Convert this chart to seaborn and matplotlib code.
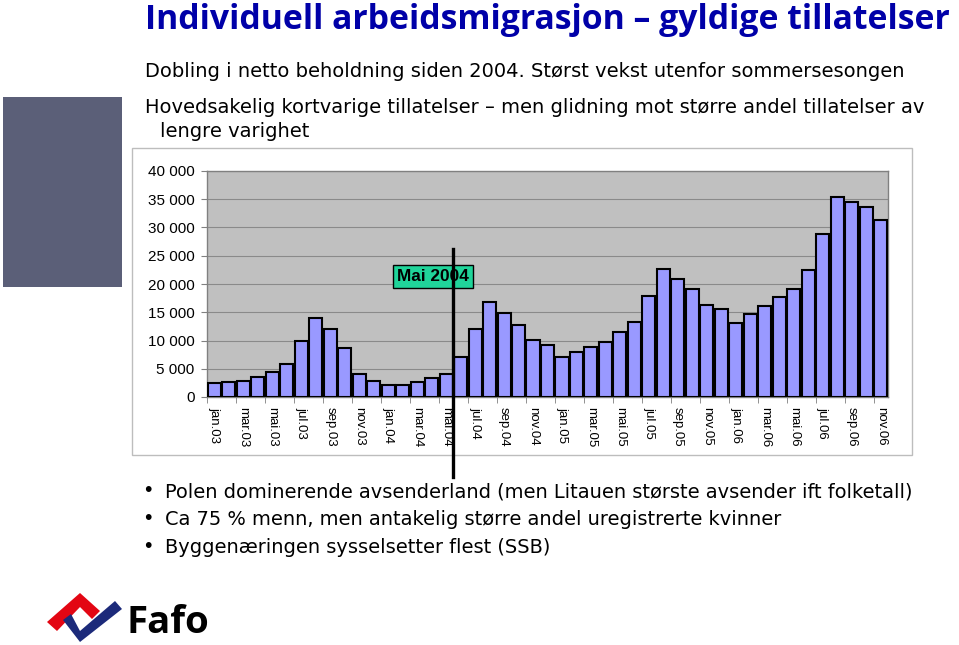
import matplotlib
matplotlib.use("Agg")
import matplotlib.pyplot as plt
import seaborn as sns
import numpy as np
from matplotlib import font_manager as fm
from matplotlib.font_manager import FontProperties
from matplotlib.patches import Rectangle, Polygon

# ---------------- data ----------------
months = ["jan.03", "feb.03", "mar.03", "apr.03", "mai.03", "jun.03", "jul.03", "aug.03",
          "sep.03", "okt.03", "nov.03", "des.03",
          "jan.04", "feb.04", "mar.04", "apr.04", "mai.04", "jun.04", "jul.04", "aug.04",
          "sep.04", "okt.04", "nov.04", "des.04",
          "jan.05", "feb.05", "mar.05", "apr.05", "mai.05", "jun.05", "jul.05", "aug.05",
          "sep.05", "okt.05", "nov.05", "des.05",
          "jan.06", "feb.06", "mar.06", "apr.06", "mai.06", "jun.06", "jul.06", "aug.06",
          "sep.06", "okt.06", "nov.06"]
permits = [2400, 2650, 2900, 3600, 4500, 5800, 9900, 13950,
           12100, 8750, 4000, 2900,
           2200, 2200, 2600, 3400, 4000, 7000, 11950, 16750,
           14900, 12750, 10150, 9150,
           7150, 8050, 8900, 9750, 11500, 13300, 17900, 22700,
           20850, 19100, 16300, 15500,
           13100, 14700, 16150, 17750, 19100, 22450, 28800, 35350,
           34550, 33550, 31400]
tick_labels = months[::2]
yticks = [0, 5000, 10000, 15000, 20000, 25000, 30000, 35000, 40000]

title = "Individuell arbeidsmigrasjon \u2013 gyldige tillatelser"
intro_lines = ["Dobling i netto beholdning siden 2004. Størst vekst utenfor sommersesongen",
               "Hovedsakelig kortvarige tillatelser \u2013 men glidning mot større andel tillatelser av",
               "lengre varighet"]
bullets = ["Polen dominerende avsenderland (men Litauen største avsender ift folketall)",
           "Ca 75 % menn, men antakelig større andel uregistrerte kvinner",
           "Byggenæringen sysselsetter flest (SSB)"]
marker_label = "Mai 2004"

# ---------------- figure ----------------
W, H = 959, 645
fig = plt.figure(figsize=(W / 100, H / 100), dpi=100)
fig.patch.set_facecolor("white")


def fx(x):
    return x / W


def fy(y):
    return 1 - y / H


names = {f.name for f in fm.fontManager.ttflist}
candidates = [n for n in ["Roboto Condensed", "Liberation Sans Narrow", "Roboto", "Open Sans",
                          "Lato", "Noto Sans", "Liberation Sans", "DejaVu Sans"] if n in names]
arial = "Liberation Sans"
renderer = fig.canvas.get_renderer()


def choose(text, width, cap, weight="normal"):
    """Pick the installed family whose size fitted to `width` gives cap height closest to `cap`."""
    best = None
    for fam in candidates:
        fp = FontProperties(family=fam, weight=weight, size=10)
        w, _, _ = renderer.get_text_width_height_descent(text, fp, ismath=False)
        _, hc, _ = renderer.get_text_width_height_descent("H", fp, ismath=False)
        s = 10 * width / w
        c = hc * s / 10
        score = abs(c - cap)
        if best is None or score < best[0]:
            best = (score, fam, s)
    return best[1], best[2]


# decorative block on left
fig.patches.append(Rectangle((fx(3), fy(287)), (122 - 3) / W, (287 - 97) / H,
                             transform=fig.transFigure, facecolor="#5B5F78",
                             edgecolor="none", zorder=-2))
# chart frame
fig.patches.append(Rectangle((fx(132), fy(455)), (912 - 132) / W, (455 - 148) / H,
                             transform=fig.transFigure, facecolor="none",
                             edgecolor="#BDBDBD", lw=1, zorder=-1))

# title
fam_t, fs_t = choose(title, 955 - 145, 23, "bold")
fig.text(fx(145), fy(29), title, color="#0000A8", fontweight="bold",
         family=fam_t, fontsize=fs_t, va="baseline")

# intro lines
fam_b, fs_b = choose(intro_lines[1], 922 - 145, 14)
for txt, x, yb in zip(intro_lines, [145, 145, 160], [77, 113, 137]):
    fig.text(fx(x), fy(yb), txt, family=fam_b, fontsize=fs_b, va="baseline", color="black")

# bullets
fam_u, fs_u = choose(bullets[0], 912 - 165, 13.5)
for b, yb in zip(bullets, [497, 525, 553]):
    fig.text(fx(165), fy(yb), b, family=fam_u, fontsize=fs_u, va="baseline")
    fig.text(fx(144), fy(yb - 1), "\u2022", family=arial, fontsize=fs_u * 1.1,
             va="baseline")

# ---------------- chart ----------------
ax = fig.add_axes([fx(207), fy(397), (888 - 207) / W, (397 - 171) / H])
sns.barplot(x=months, y=permits, color="#9999FF", saturation=1, edgecolor="black",
            linewidth=1.5, width=0.9, ax=ax, zorder=3)
ax.set_xlim(-0.5, len(months) - 0.5)
ax.set_ylim(0, 40000)
ax.set_facecolor("#C0C0C0")
ax.set_yticks(yticks)
ax.set_yticklabels([f"{v:,}".replace(",", " ") for v in yticks], family=arial, fontsize=11)
ax.set_xticks(range(0, len(months), 2))
ax.set_xticklabels(tick_labels, rotation=-90, family=arial, fontsize=9.5)
ax.set_xticks(np.arange(-0.5, len(months), 2), minor=True)
ax.tick_params(axis="x", which="major", length=0, pad=7)
ax.tick_params(axis="x", which="minor", length=4, color="#808080")
ax.tick_params(axis="y", length=4, color="#808080", pad=5)
ax.set_xlabel("")
ax.set_ylabel("")
ax.yaxis.grid(True, color="#8A8A8A", lw=0.8)
ax.set_axisbelow(True)
for s in ax.spines.values():
    s.set_color("#808080")
    s.set_linewidth(1)

# May 2004 marker
ax.axvline(16.5, ymin=(397 - 477) / 226, ymax=(397 - 249) / 226, color="black",
           lw=2.4, clip_on=False, zorder=6)
fam_m, fs_m = choose(marker_label, 72, 13, "bold")
ax.text(15.1, 21300, marker_label, ha="center", va="center", family=fam_m,
        fontweight="bold", fontsize=fs_m, zorder=5,
        bbox=dict(boxstyle="square,pad=0.22", fc="#20D49A", ec="black", lw=1))

# ---------------- logo ----------------
red = Polygon([(fx(47), fy(622)), (fx(80), fy(593)), (fx(100), fy(611)), (fx(92), fy(619)),
               (fx(80), fy(607)), (fx(57), fy(631))], closed=True,
              transform=fig.transFigure, facecolor="#E30613", edgecolor="none")
blue = Polygon([(fx(63), fy(620)), (fx(80), fy(642)), (fx(122), fy(609)), (fx(115), fy(601)),
                (fx(80), fy(631)), (fx(71), fy(614))], closed=True,
               transform=fig.transFigure, facecolor="#1C2A7A", edgecolor="none")
fig.patches.extend([red, blue])
fam_f, fs_f = choose("Fafo", 210 - 127, 28, "bold")
fig.text(fx(127), fy(633), "Fafo", family=fam_f, fontweight="bold", fontsize=fs_f,
         va="baseline", color="black")

fig.savefig("out.png", dpi=100)
